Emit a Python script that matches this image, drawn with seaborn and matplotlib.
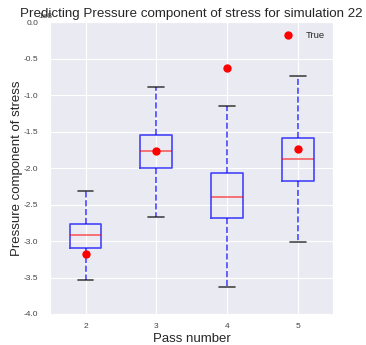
import matplotlib
matplotlib.use("Agg")
import matplotlib.pyplot as plt
import seaborn as sns

# ===== Data (scale 1e8) =====
passes = ["2", "3", "4", "5"]
whisker_low = [-3.53, -2.67, -3.63, -3.01]
q1 = [-3.09, -2.00, -2.69, -2.18]
median = [-2.92, -1.76, -2.39, -1.87]
q3 = [-2.77, -1.54, -2.07, -1.59]
whisker_high = [-2.31, -0.89, -1.14, -0.73]
true_vals = [-3.18, -1.77, -0.62, -1.73]
scale = 1e8

sns.set_style("darkgrid")
plt.rcParams["font.family"] = ["Liberation Sans", "DejaVu Sans"]
plt.rcParams["axes.unicode_minus"] = False

fig = plt.figure(figsize=(3.66, 3.45), dpi=100)
ax = fig.add_axes([0.137, 0.09, 0.773, 0.845])

# box statistics for ax.bxp
stats = []
for i, p in enumerate(passes):
    stats.append({
        "label": p,
        "whislo": whisker_low[i] * scale,
        "q1": q1[i] * scale,
        "med": median[i] * scale,
        "q3": q3[i] * scale,
        "whishi": whisker_high[i] * scale,
        "fliers": [],
    })

positions = list(range(1, len(passes) + 1))
ax.bxp(stats, positions=positions, widths=0.45,
       boxprops=dict(color="blue", alpha=0.7, linewidth=1.2),
       whiskerprops=dict(color="blue", linestyle="--", alpha=0.7, linewidth=1.2),
       capprops=dict(color="black", alpha=0.7, linewidth=1.2),
       medianprops=dict(color="red", alpha=0.6, linewidth=1.2))

ax.plot(positions, [v * scale for v in true_vals], "o", color="red",
        markersize=5, linestyle="none", label="True")

ax.set_xlim(0.5, 4.5)
ax.set_ylim(-4e8, 0)
ax.set_xticks(positions)
ax.set_xticklabels(passes)
ax.tick_params(axis="both", labelsize=6, colors="#444444")
ax.tick_params(axis="x", pad=3)
ax.tick_params(axis="y", pad=5)
ax.yaxis.get_offset_text().set_fontsize(6)
ax.yaxis.get_offset_text().set_position((-0.04, 0))

ax.set_title("Predicting Pressure component of stress for simulation 22",
             fontsize=9.6, y=1.0, pad=4)
ax.set_xlabel("Pass number", fontsize=9.5, labelpad=2)
ax.set_ylabel("Pressure component of stress", fontsize=9.5)
ax.yaxis.set_label_coords(-0.097, 0.5)
ax.legend(loc="upper right", fontsize=6.8, frameon=False, numpoints=1)

plt.savefig("out.png", dpi=100)
plt.close()
